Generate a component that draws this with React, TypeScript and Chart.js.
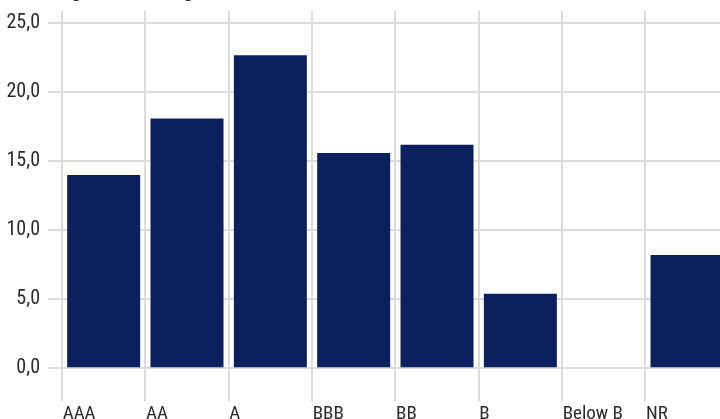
import React, { useEffect, useRef } from "react";
import { Chart, registerables } from "chart.js";

Chart.register(...registerables);

const TITLE = "Average credit rating";
const categories = ["AAA", "AA", "A", "BBB", "BB", "B", "Below B", "NR"];
const weights = [14.0, 18.1, 22.7, 15.6, 16.2, 5.4, 0, 8.2];
const Y_MIN = 0;
const Y_MAX = 25.9;
const Y_STEP = 5;

const FONT = "'Liberation Sans Narrow', 'Roboto Condensed', 'Arial Narrow', sans-serif";
const GRID = "#dcdcdc";
const TEXT = "#2b2b2b";
const BAR = "#0c1f5e";

const titlePlugin = {
  id: "topTitle",
  afterDraw(chart: any) {
    const ctx = chart.ctx;
    ctx.save();
    ctx.font = `bold 20px ${FONT}`;
    ctx.fillStyle = "#000000";
    ctx.textBaseline = "alphabetic";
    ctx.textAlign = "left";
    ctx.fillText(TITLE, 26, 36.5);
    ctx.restore();
  },
};

export default function App() {
  const ref = useRef<HTMLCanvasElement | null>(null);

  useEffect(() => {
    if (!ref.current) return;
    const chart = new Chart(ref.current, {
      type: "bar",
      data: {
        labels: categories,
        datasets: [
          {
            data: weights,
            backgroundColor: BAR,
            borderWidth: 0,
            barPercentage: 0.876,
            categoryPercentage: 1,
          },
        ],
      },
      plugins: [titlePlugin],
      options: {
        animation: false,
        responsive: true,
        maintainAspectRatio: false,
        layout: { padding: { top: 51, left: 0, right: 11.3, bottom: 2 } },
        plugins: {
          legend: { display: false },
          tooltip: { enabled: false },
          title: { display: false },
        },
        scales: {
          x: {
            offset: true,
            grid: {
              offset: true,
              color: GRID,
              lineWidth: 2,
              tickLength: 33,
              drawTicks: true,
            },
            border: { display: false },
            ticks: {
              align: "start",
              labelOffset: -41,
              padding: 2,
              maxRotation: 0,
              autoSkip: false,
              color: TEXT,
              font: { family: FONT, size: 19 },
            },
          },
          y: {
            min: Y_MIN,
            max: Y_MAX,
            afterFit: (scale: any) => {
              scale.width = 62;
            },
            grid: {
              color: GRID,
              lineWidth: 2,
              tickLength: 14,
            },
            border: { display: false },
            ticks: {
              stepSize: Y_STEP,
              includeBounds: false,
              padding: 8,
              color: TEXT,
              font: { family: FONT, size: 20 },
              callback: (v: any) => Number(v).toFixed(1).replace(".", ","),
            },
          },
        },
      },
    });
    return () => chart.destroy();
  }, []);

  return (
    <div
      style={{
        position: "fixed",
        left: 0,
        top: 0,
        width: 720,
        height: 419,
        overflow: "hidden",
        background: "#ffffff",
      }}
    >
      <div style={{ position: "absolute", left: 0, top: -40, width: 740, height: 470 }}>
        <canvas ref={ref} />
      </div>
    </div>
  );
}
